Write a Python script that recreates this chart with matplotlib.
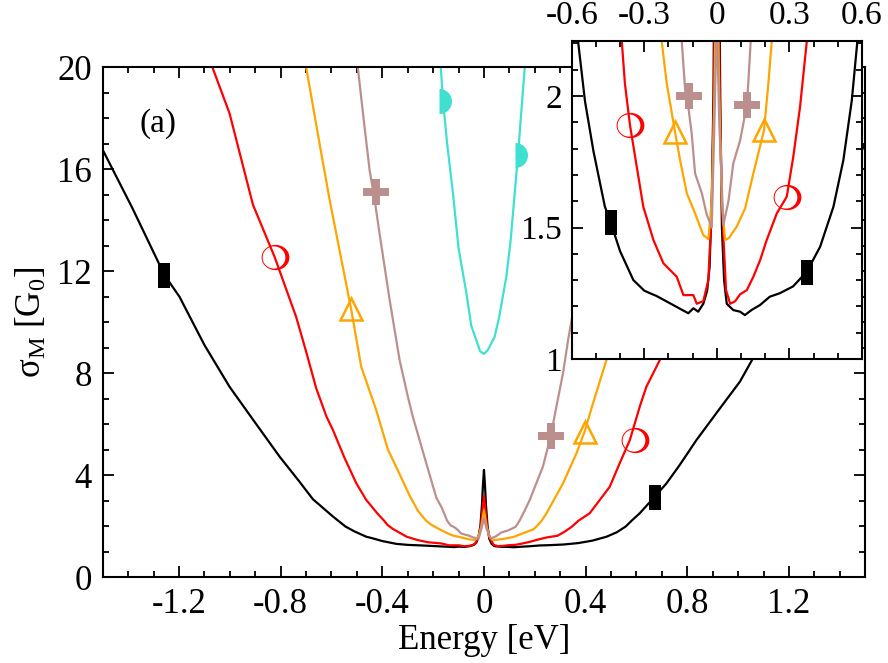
import numpy as np
import matplotlib
matplotlib.use("Agg")
import matplotlib.pyplot as plt
from matplotlib.path import Path
from matplotlib.ticker import MultipleLocator

plt.rcParams['font.family'] = ['Liberation Serif', 'DejaVu Serif']
plt.rcParams['mathtext.fontset'] = 'custom'
plt.rcParams['mathtext.rm'] = 'Liberation Serif'
plt.rcParams['mathtext.it'] = 'Liberation Serif:italic'

# ---- data (energy in eV, sigma in G0) ----
e_black = [-1.5, -1.383, -1.257, -1.198, -1.1, -1.001, -0.9, -0.804, -0.726, -0.673,
           -0.594, -0.545, -0.51, -0.463, -0.439, -0.40, -0.345, -0.30, -0.276, -0.25,
           -0.21, -0.18, -0.15, -0.118, -0.097, -0.077, -0.056, -0.04, -0.03, -0.021,
           -0.014, -0.008, -0.004, 0.0, 0.004, 0.008, 0.014, 0.021, 0.03, 0.041,
           0.068, 0.096, 0.116, 0.143, 0.178, 0.219, 0.26, 0.315, 0.372, 0.427,
           0.482, 0.523, 0.558, 0.581, 0.613, 0.672, 0.718, 0.77, 0.836, 0.92,
           1.007, 1.057, 1.2, 1.35, 1.5]
s_black = [16.75, 14.46, 11.84, 10.99, 9.1, 7.46, 6.05, 4.72, 3.74, 3.05,
           2.37, 1.98, 1.79, 1.58, 1.52, 1.41, 1.30, 1.26, 1.25, 1.24,
           1.22, 1.205, 1.19, 1.174, 1.193, 1.18, 1.21, 1.26, 1.35, 1.60,
           2.0, 2.8, 3.6, 4.2, 3.6, 2.8, 2.0, 1.50, 1.30, 1.21,
           1.186, 1.18, 1.167, 1.186, 1.205, 1.237, 1.25, 1.276, 1.332, 1.427,
           1.579, 1.756, 1.984, 2.209, 2.5, 3.15, 3.67, 4.39, 5.37, 6.5,
           7.66, 8.55, 11.3, 14.0, 17.0]

e_red = [-1.08, -1.001, -0.909, -0.824, -0.739, -0.7, -0.66, -0.62, -0.594, -0.55,
         -0.502, -0.463, -0.42, -0.393, -0.38, -0.359, -0.331, -0.304, -0.262, -0.221,
         -0.166, -0.138, -0.097, -0.083, -0.056, -0.035, -0.021, -0.012, -0.006, 0.0,
         0.006, 0.012, 0.021, 0.038, 0.055, 0.076, 0.096, 0.124, 0.151, 0.179,
         0.206, 0.248, 0.289, 0.316, 0.344, 0.372, 0.416, 0.495, 0.534, 0.574,
         0.613, 0.639, 0.692, 0.74, 0.82, 0.91, 1.0, 1.08]
s_red = [20.3, 18.18, 14.6, 12.56, 10.2, 8.85, 7.4, 6.3, 5.76, 4.7,
         3.67, 3.02, 2.5, 2.209, 2.047, 1.889, 1.731, 1.579, 1.452, 1.364,
         1.313, 1.243, 1.243, 1.21, 1.22, 1.30, 1.58, 2.0, 2.6, 3.2,
         2.6, 2.0, 1.58, 1.262, 1.21, 1.22, 1.246, 1.262, 1.313, 1.376,
         1.452, 1.554, 1.617, 1.769, 1.959, 2.209, 2.5, 3.54, 4.46, 5.37,
         6.68, 7.46, 8.51, 10.2, 12.5, 14.6, 18.2, 20.3]

e_orange = [-0.705, -0.647, -0.607, -0.522, -0.483, -0.424, -0.378, -0.335, -0.293, -0.26,
            -0.228, -0.207, -0.173, -0.152, -0.124, -0.09, -0.056, -0.035, -0.021, -0.01,
            0.0, 0.01, 0.021, 0.034, 0.05, 0.082, 0.117, 0.151, 0.195, 0.213,
            0.227, 0.246, 0.311, 0.364, 0.396, 0.429, 0.482, 0.53, 0.6, 0.65, 0.705]
s_orange = [20.3, 17.0, 14.78, 10.47, 8.25, 6.55, 5.0, 4.1, 3.2, 2.6,
            2.209, 2.047, 1.864, 1.756, 1.63, 1.554, 1.471, 1.456, 1.6, 2.0,
            2.6, 2.0, 1.6, 1.452, 1.46, 1.503, 1.573, 1.706, 1.87, 2.047,
            2.209, 2.5, 3.67, 4.85, 5.7, 6.81, 8.51, 10.6, 14.0, 17.0, 20.3]

e_brown = [-0.5, -0.47, -0.45, -0.43, -0.411, -0.371, -0.332, -0.3, -0.28, -0.227,
           -0.187, -0.165, -0.145, -0.131, -0.118, -0.104, -0.09, -0.062, -0.042, -0.021,
           -0.01, 0.0, 0.01, 0.027, 0.048, 0.068, 0.096, 0.124, 0.13, 0.14,
           0.16, 0.18, 0.232, 0.263, 0.285, 0.311, 0.331, 0.37, 0.41, 0.43, 0.495]
s_brown = [20.3, 17.66, 15.96, 14.78, 13.48, 10.86, 8.51, 7.1, 6.29, 4.46,
           3.1, 2.7, 2.209, 2.022, 1.96, 1.857, 1.706, 1.63, 1.55, 1.5,
           1.9, 2.3, 1.9, 1.51, 1.6, 1.744, 1.83, 1.965, 2.05, 2.209,
           2.6, 3.02, 4.33, 5.54, 6.68, 7.99, 9.29, 11.5, 13.6, 15.1, 20.3]

e_cyan = [-0.172, -0.161, -0.145, -0.122, -0.1, -0.069, -0.05, -0.03, -0.015, 0.0,
          0.015, 0.042, 0.06, 0.088, 0.105, 0.121, 0.134, 0.145, 0.163]
s_cyan = [20.3, 18.68, 17.0, 15.05, 12.9, 11.13, 9.85, 9.29, 8.85, 8.75,
          8.9, 9.42, 10.2, 11.78, 13.2, 15.05, 16.55, 18.0, 20.3]

# symbol positions, main panel
mk_black = ([-1.257, 0.672], [11.84, 3.15])
mk_red = ([-0.824, 0.596], [12.56, 5.37])
mk_orange = ([-0.522, 0.396], [10.5, 5.7])
mk_brown = ([-0.426, 0.263], [15.11, 5.54])
mk_cyan = ([-0.175, 0.122], [18.68, 16.55])
# symbol positions, inset
ins_black = ([-0.439, 0.372], [1.522, 1.332])
ins_red = ([-0.359, 0.289], [1.889, 1.617])
ins_orange = ([-0.173, 0.195], [1.864, 1.87])
ins_brown = ([-0.114, 0.124], [1.999, 1.965])

# ---- custom symbols ----
rect = [(-0.5, -1), (0.5, -1), (0.5, 1), (-0.5, 1), (-0.5, -1)]
t = np.linspace(-np.pi / 2, np.pi / 2, 30)
halfdisk = [(0, -1)] + list(zip(np.cos(t), np.sin(t))) + [(0, -1)]
th = np.linspace(0, 2 * np.pi, 60)
outer = np.column_stack([1.1 * np.cos(th), np.sin(th)])
inner = np.column_stack([-0.12 + 0.9 * np.cos(th[::-1]), 0.88 * np.sin(th[::-1])])
codes = [Path.MOVETO] + [Path.LINETO] * 58 + [Path.CLOSEPOLY]
ring = Path(np.vstack([outer, inner]), codes + codes)

curves = [(e_black, s_black, 'black'), (e_red, s_red, 'red'),
          (e_orange, s_orange, 'orange'), (e_brown, s_brown, 'rosybrown')]

fig = plt.figure(figsize=(8.88, 6.63), dpi=100)
ax = fig.add_axes([0.1157, 0.1297, 0.8586, 0.7692])

for e, s, c in curves:
    ax.plot(e, s, color=c, lw=1.6)
ax.plot(e_cyan, s_cyan, color='turquoise', lw=1.6)


def put_symbols(a, bk, rd, og, br, cy=None):
    a.plot(*bk, ls='none', marker=rect, ms=18, color='black', mew=0)
    a.plot(*rd, ls='none', marker=ring, ms=20, color='red', mew=0)
    a.plot(*og, ls='none', marker='^', ms=16, mfc='none', mec='orange', mew=1.8)
    a.plot(*br, ls='none', marker='P', ms=19, color='rosybrown', mew=0)
    if cy is not None:
        a.plot(*cy, ls='none', marker=halfdisk, ms=18, color='turquoise', mew=0)


put_symbols(ax, mk_black, mk_red, mk_orange, mk_brown, mk_cyan)

ax.set_xlim(-1.5, 1.5)
ax.set_ylim(0, 20)
ax.xaxis.set_minor_locator(MultipleLocator(0.1))
ax.yaxis.set_major_locator(MultipleLocator(4))
ax.yaxis.set_minor_locator(MultipleLocator(1))
ax.set_xticks([-1.2, -0.8, -0.4, 0, 0.4, 0.8, 1.2])
ax.set_xticklabels(['-1.2', '-0.8', '-0.4', '0', '0.4', '0.8', '1.2'])
ax.tick_params(which='both', direction='in', top=True, right=True, width=1.3,
               labelsize=25, pad=8)
ax.tick_params(which='major', length=8)
ax.tick_params(which='minor', length=4.5)
for sp in ax.spines.values():
    sp.set_linewidth(1.5)
ax.set_xlabel('Energy [eV]', fontsize=25, labelpad=2)
ax.set_ylabel(r'σ$_\mathrm{M}$ [G$_0$]', fontsize=25, labelpad=6)
ax.text(0.048, 0.89, '(a)', transform=ax.transAxes, fontsize=24, va='center')

# ---- inset ----
axi = fig.add_axes([0.6438, 0.4585, 0.3269, 0.4800])
axi.set_facecolor('white')
for e, s, c in curves:
    axi.plot(e, s, color=c, lw=1.6)
put_symbols(axi, ins_black, ins_red, ins_orange, ins_brown)
axi.set_xlim(-0.6, 0.6)
axi.set_ylim(1, 2.21)
axi.set_xticks([-0.6, -0.3, 0, 0.3, 0.6])
axi.set_xticklabels(['-0.6', '-0.3', '0', '0.3', '0.6'])
axi.xaxis.set_minor_locator(MultipleLocator(0.1))
axi.set_yticks([1, 1.5, 2])
axi.set_yticklabels(['1', '1.5', '2'])
axi.yaxis.set_minor_locator(MultipleLocator(0.1))
axi.tick_params(which='both', direction='in', top=True, right=True, bottom=True,
                labeltop=True, labelbottom=False, width=1.3, labelsize=24, pad=7)
axi.tick_params(which='major', length=8)
axi.tick_params(which='minor', length=4.5)
for sp in axi.spines.values():
    sp.set_linewidth(1.5)

fig.savefig('out.png', dpi=100, facecolor='white')
